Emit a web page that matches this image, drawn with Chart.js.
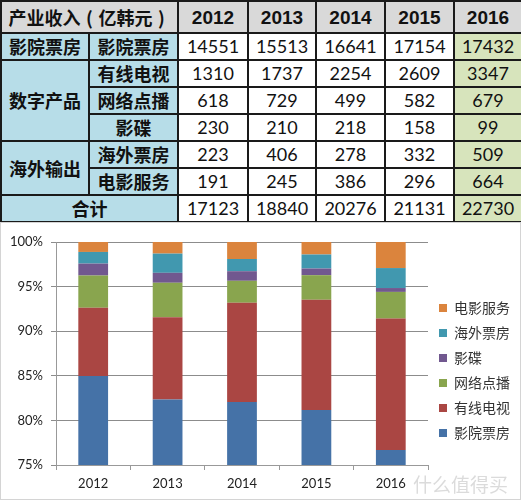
<!DOCTYPE html>
<html><head><meta charset="utf-8">
<script src="https://cdn.jsdelivr.net/npm/chart.js@4"></script>
<style>
html,body{margin:0;padding:0;background:#fff;width:521px;height:500px;overflow:hidden;}
#tbl{position:absolute;left:0;top:0;border-collapse:collapse;table-layout:fixed;width:521px;font-family:Lato,"Noto Sans CJK SC",sans-serif;font-size:18px;color:#111;}
#tbl td{border:2px solid #1a1a1a;text-align:center;padding:0;height:25px;line-height:25px;white-space:nowrap;overflow:hidden;}
#tbl tr.h td{height:30px;background:#d9d9d9;font-weight:bold;}
#tbl td.c{background:#b7dde8;font-weight:bold;font-family:"Noto Sans CJK SC",sans-serif;}
#tbl td.g{background:#d7e4bc;}
#tbl td.yr{font-weight:bold;font-family:"Liberation Sans",Lato,sans-serif;font-size:19px;}
#tbl td.hd{font-family:"Noto Sans CJK SC",sans-serif;font-size:18px;overflow:visible;}
.p{display:inline-block;width:18px;text-align:center;}
#box{position:absolute;left:0;top:222px;width:519px;height:276px;border:1px solid #d4d4d4;}
#wm{position:absolute;left:413px;top:470px;font-family:"Noto Sans CJK SC",sans-serif;font-size:19px;color:rgba(190,190,190,0.55);}
</style></head>
<body>
<table id="tbl"></table>
<div id="box"><canvas id="c" width="519" height="276"></canvas></div>
<div id="wm">什么值得买</div>
<script>
const years = ['2012','2013','2014','2015','2016'];
const groupNames = ['影院票房','数字产品','海外输出'];
const seriesNames = ['影院票房','有线电视','网络点播','影碟','海外票房','电影服务'];
const cinema   = [14551,15513,16641,17154,17432];
const cable    = [1310,1737,2254,2609,3347];
const vod      = [618,729,499,582,679];
const disc     = [230,210,218,158,99];
const overseas = [223,406,278,332,509];
const services = [191,245,386,296,664];
const totals   = [17123,18840,20276,21131,22730];
const headerMain = '产业收入';
const headerUnit = '亿韩元';
const totalLabel = '合计';
const colors = ['#4572a7','#aa4643','#89a54e','#71588f','#4198af','#db843d'];

// table
const series = [cinema,cable,vod,disc,overseas,services];
const tbl = document.getElementById('tbl');
let html = '<colgroup><col style="width:88px"><col style="width:89px"><col style="width:70px"><col style="width:68px"><col style="width:69px"><col style="width:69px"><col style="width:68px"></colgroup>';
html += '<tr class="h"><td colspan="2" class="hd">'+headerMain+'<span class="p">(</span>'+headerUnit+'<span class="p">)</span></td>' + years.map(y=>'<td class="yr">'+y+'</td>').join('') + '</tr>';
const groupStart = {0:[0,1],1:[1,3],4:[2,2]};
series.forEach((s,i)=>{
  html += '<tr>';
  if (groupStart[i]) html += '<td class="c" rowspan="'+groupStart[i][1]+'">'+groupNames[groupStart[i][0]]+'</td>';
  html += '<td class="c">'+seriesNames[i]+'</td>';
  s.forEach((v,j)=>{ html += '<td'+(j===4?' class="g"':'')+'>'+v+'</td>'; });
  html += '</tr>';
});
html += '<tr><td class="c" colspan="2">'+totalLabel+'</td>' + totals.map((v,j)=>'<td'+(j===4?' class="g"':'')+'>'+v+'</td>').join('') + '</tr>';
tbl.innerHTML = html;

// chart
const datasets = series.map((s,i)=>({
  label: seriesNames[i],
  data: s.map((v,j)=>v/totals[j]),
  backgroundColor: colors[i],
  borderWidth: 0,
  categoryPercentage: 1.0,
  barPercentage: 0.4
}));
const font = {family:'Lato, "Noto Sans CJK SC", sans-serif', size:13};
new Chart(document.getElementById('c'), {
  type:'bar',
  data:{labels:years, datasets},
  options:{
    responsive:false, animation:false,
    layout:{padding:{top:19,right:0,bottom:0,left:0}},
    plugins:{
      legend:{position:'right', reverse:true,
        labels:{boxWidth:8, boxHeight:8, padding:11, color:'#333', font:{family:'"Noto Sans CJK SC", sans-serif', size:14}}},
      tooltip:{enabled:false}
    },
    scales:{
      x:{stacked:true,
        grid:{offset:true, drawOnChartArea:false, drawTicks:true, tickLength:5, color:'#999'},
        border:{color:'#999'},
        ticks:{color:'#222', font, padding:6},
        afterFit:(s)=>{s.height=34;}
      },
      y:{stacked:true, min:0.75, max:1,
        grid:{color:'#8c8c8c', tickLength:5, drawTicks:true},
        border:{color:'#999'},
        ticks:{stepSize:0.05, color:'#222', font, padding:8, callback:(v)=>Math.round(v*100)+'%'},
        afterFit:(s)=>{s.width=55;}
      }
    }
  }
});
</script>
</body></html>
